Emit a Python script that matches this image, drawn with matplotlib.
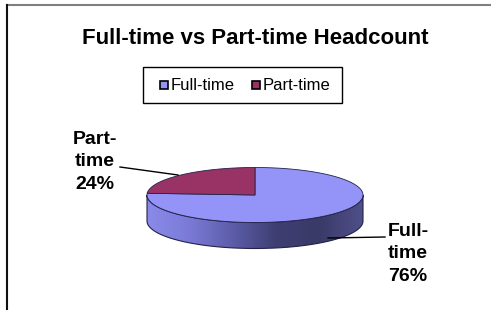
import numpy as np
import matplotlib
matplotlib.use("Agg")
import matplotlib.pyplot as plt
from matplotlib.patches import Polygon
from matplotlib.colors import LinearSegmentedColormap

plt.rcParams['font.family'] = ['Liberation Sans', 'DejaVu Sans']

categories = ['Full-time', 'Part-time']
shares = [76, 24]
slice_labels = ['Full-\ntime\n76%', 'Part-\ntime\n24%']
colors = ['#9494F8', '#993366']
title = 'Full-time vs Part-time Headcount'

W, H = 491, 310
fig = plt.figure(figsize=(W / 100, H / 100), dpi=100)
ax = fig.add_axes([0, 0, 1, 1])
ax.set_xlim(0, W)
ax.set_ylim(H, 0)
ax.axis('off')

# chart frame (only top and left visible in the crop)
ax.plot([7, W], [5, 5], color='#808080', lw=1.5)
ax.plot([7, 7], [5, H], color='#111111', lw=1.5)

ax.text(255, 39, title, ha='center', va='center', fontsize=16, fontweight='bold')

# pie geometry (pixels)
cx, cy, rx, ry, depth = 255, 195, 108, 27.5, 26


def ell(t, dy=0):
    return cx + rx * np.cos(t), cy - ry * np.sin(t) + dy


# slice angles: first slice starts at 12 o'clock and runs clockwise
fracs = np.array(shares) / sum(shares)
starts = np.pi / 2 - np.concatenate([[0], np.cumsum(fracs)[:-1]]) * 2 * np.pi
ends = starts - fracs * 2 * np.pi

# front side wall with gradient
t = np.linspace(np.pi, 2 * np.pi, 200)
xt, yt = ell(t)
xb, yb = ell(t[::-1], depth)
side = Polygon(np.column_stack([np.r_[xt, xb], np.r_[yt, yb]]), closed=True,
               facecolor='none', edgecolor='#22224a', lw=0.8, zorder=2)
ax.add_patch(side)
cmap = LinearSegmentedColormap.from_list(
    'side', ['#8a8aea', '#7a7ad6', '#5c5ca8', '#3e3e72', '#3a3a68', '#50508a'])
grad = np.linspace(0, 1, 256).reshape(1, -1)
im = ax.imshow(grad, cmap=cmap, extent=[cx - rx, cx + rx, cy + ry + depth, cy - ry],
               aspect='auto', zorder=1.5)
im.set_clip_path(side)

# top slices
for s, e, c in zip(starts, ends, colors):
    tt = np.linspace(s, e, 200)
    x, y = ell(tt)
    poly = Polygon(np.column_stack([np.r_[cx, x], np.r_[cy, y]]), closed=True,
                   facecolor=c, edgecolor='#22224a', lw=0.6, zorder=3)
    ax.add_patch(poly)

# legend box
ax.add_patch(plt.Rectangle((143, 67), 199, 36, facecolor='white',
                           edgecolor='black', lw=1, zorder=4))
lx = [160, 252]
for x0, c, name in zip(lx, colors, categories):
    ax.add_patch(plt.Rectangle((x0, 81), 8, 8, facecolor=c, edgecolor='black',
                               lw=1.2, zorder=5))
    ax.text(x0 + 11, 85.5, name, ha='left', va='center', fontsize=12, zorder=5)

# data labels with leader lines
label_pos = [(408, 254), (95, 162)]
leader = [[(328, 238), (385, 237)], [(178, 175), (120, 167)]]
for (px, py), lab, ln in zip(label_pos, slice_labels, leader):
    ax.text(px, py, lab, ha='center', va='center', fontsize=14,
            fontweight='bold', linespacing=1.4, zorder=5)
    ax.plot([ln[0][0], ln[1][0]], [ln[0][1], ln[1][1]], color='black', lw=1, zorder=5)

fig.savefig('out.png', dpi=100)
